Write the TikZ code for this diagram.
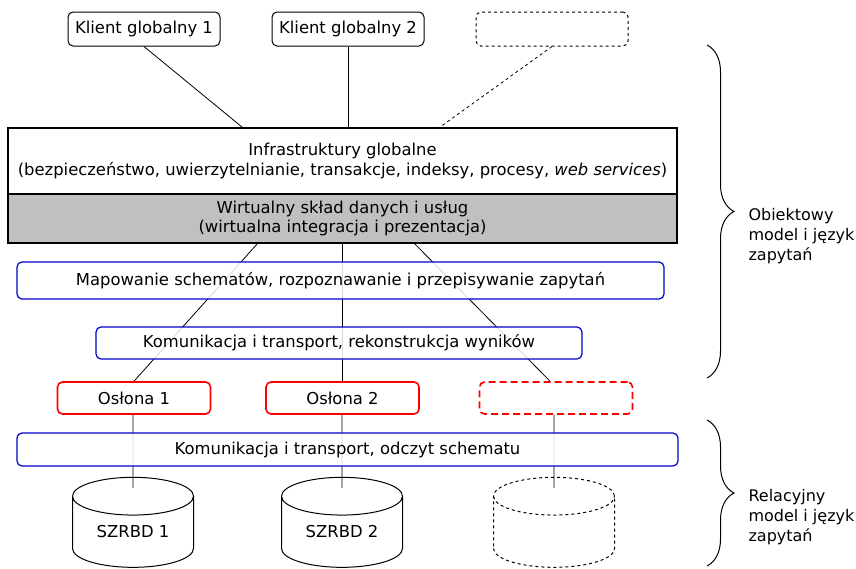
\documentclass[tikz,border=0pt]{standalone}
\usepackage{fontspec}
\setmainfont{DejaVu Sans}
\usetikzlibrary{shapes.geometric,backgrounds,decorations.pathreplacing}
\definecolor{panelgray}{RGB}{192,192,192}
\definecolor{layerblue}{RGB}{0,0,204}

\begin{document}
\begin{tikzpicture}[x=1pt, y=-1pt, font=\fontsize{16.4}{20.5}\selectfont]
	\tikzstyle{client} = [draw, line width=1pt, rounded corners=5pt, minimum width=152pt, minimum height=34pt, inner sep=0pt]
	\tikzstyle{layer} = [draw, line width=1.1pt, minimum width=669pt, inner sep=0pt, align=center]
	\tikzstyle{service} = [draw=layerblue, line width=1.2pt, rounded corners=5pt, fill=white, fill opacity=0.85, text opacity=1, inner sep=0pt]
	\tikzstyle{wrapper} = [draw=red, line width=1.6pt, rounded corners=5pt, fill=white, minimum width=153pt, minimum height=32pt, inner sep=0pt]
	\tikzstyle{database} = [draw, line width=1pt, cylinder, shape border rotate=90, aspect=0.52, minimum width=121pt, minimum height=90pt, inner sep=0pt]
	\tikzstyle{bracket} = [decorate, decoration={brace, amplitude=27pt}, line width=1pt]

	\useasboundingbox (0,0) rectangle (856,568);

	\path
	node[client] (k1) at (144,29) {Klient globalny 1}
	node[client] (k2) at (348,29) {Klient globalny 2}
	node[client, dashed] (k3) at (552,29) {}

	node[layer, minimum height=66pt] (infra) at (342.5,161) {Infrastruktury globalne\\(bezpieczeństwo, uwierzytelnianie, transakcje, indeksy, procesy, \textit{web services})}
	node[layer, fill=panelgray, minimum height=49pt] (virt) at (342.5,218.5) {Wirtualny skład danych i usług\\[-1.5pt](wirtualna integracja i prezentacja)}

	node[service, minimum width=647pt, minimum height=37pt] (map) at (340.5,280.5) {Mapowanie schematów, rozpoznawanie i przepisywanie zapytań}
	node[service, minimum width=486pt, minimum height=32pt] (rec) at (339,343) {Komunikacja i transport, rekonstrukcja wyników}

	node[wrapper] (o1) at (134,398) {Osłona 1}
	node[wrapper] (o2) at (342.5,398) {Osłona 2}
	node[wrapper, dashed, dash pattern=on 7pt off 4pt] (o3) at (556,398) {}

	node[service, minimum width=661pt, minimum height=33pt] (read) at (347.5,449.5) {Komunikacja i transport, odczyt schematu}

	node[database] (c1) at (133,532) {SZRBD 1}
	node[database] (c2) at (342,532) {SZRBD 2}
	node[database, dashed] (c3) at (554,532) {\phantom{SZRBD 3}}

	node[anchor=west, align=left, font=\fontsize{16}{20}\selectfont] (obj) at (745,236) {Obiektowy\\model i język\\zapytań}
	node[anchor=west, align=left, font=\fontsize{16}{20}\selectfont] (rel) at (745,517) {Relacyjny\\model i język\\zapytań}
	;

	% polaczenia pod warstwami
	\begin{scope}[on background layer]
	\path[line width=0.8pt]
	(k1.south) edge ([xshift=-100pt]infra.north)
	(k2.south) edge (k2.south |- infra.north)
	(k3.south) edge[dashed] ([xshift=97pt]infra.north)
	([xshift=-85pt]virt.south) edge (o1.north)
	(virt.south) edge (o2.north)
	([xshift=72pt]virt.south) edge ([xshift=-6pt]o3.north)
	(o1.south -| c1) edge ([yshift=-11pt]c1.north)
	(o2.south -| c2) edge ([yshift=-11pt]c2.north)
	(o3.south -| c3) edge ([yshift=-11pt]c3.north)
	;
	\end{scope}

	\draw[bracket] (707,45) -- (707,378);
	\draw[bracket] (707,420) -- (707,566);

\end{tikzpicture}
\end{document}
